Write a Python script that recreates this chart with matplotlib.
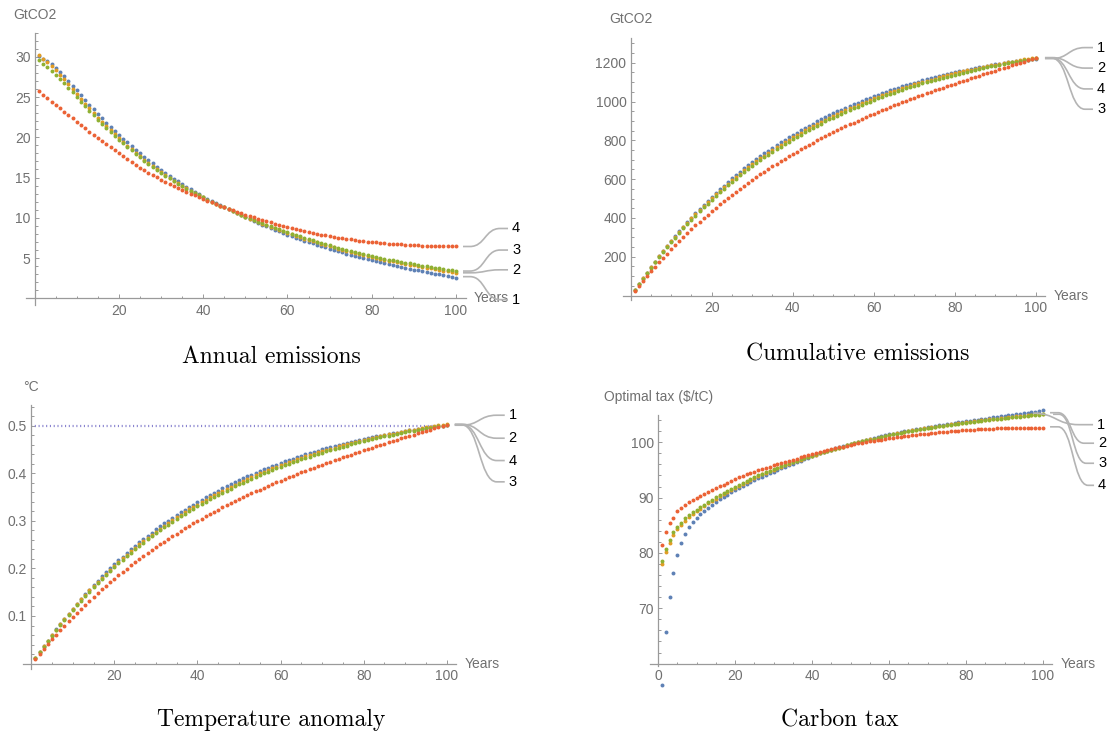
import numpy as np
import matplotlib
matplotlib.use("Agg")
import matplotlib.pyplot as plt
import matplotlib.transforms as mtransforms
from matplotlib.path import Path
from matplotlib.patches import PathPatch
from matplotlib.ticker import FixedLocator, MultipleLocator

plt.rcParams['font.family'] = ['Liberation Sans', 'DejaVu Sans']

# Data: 4 policy scenarios over 100 years
years = np.arange(1, 101)
scenarios = ['1', '2', '3', '4']
colors = ['#5E81B5', '#E19C24', '#8FB032', '#EB6235']

# annual emissions (GtCO2)
annual_1 = [30.05, 29.72, 29.42, 29.07, 28.65, 28.14, 27.58, 27.00, 26.41, 25.82,
            25.22, 24.62, 24.03, 23.46, 22.90, 22.35, 21.82, 21.31, 20.81, 20.32,
            19.84, 19.37, 18.91, 18.46, 18.02, 17.59, 17.17, 16.76, 16.36, 15.97,
            15.59, 15.22, 14.86, 14.51, 14.17, 13.84, 13.52, 13.21, 12.91, 12.62,
            12.34, 12.07, 11.80, 11.54, 11.28, 11.03, 10.78, 10.53, 10.29, 10.05,
            9.82, 9.59, 9.37, 9.15, 8.93, 8.72, 8.51, 8.31, 8.11, 7.91,
            7.72, 7.53, 7.35, 7.17, 6.99, 6.82, 6.65, 6.48, 6.32, 6.16,
            6.00, 5.85, 5.70, 5.55, 5.41, 5.27, 5.13, 4.99, 4.86, 4.73,
            4.60, 4.48, 4.36, 4.24, 4.12, 4.01, 3.90, 3.79, 3.68, 3.57,
            3.46, 3.36, 3.26, 3.16, 3.06, 2.96, 2.86, 2.76, 2.66, 2.56]
annual_2 = [30.25, 29.77, 29.32, 28.87, 28.35, 27.79, 27.18, 26.58, 25.96, 25.37,
            24.77, 24.17, 23.58, 23.01, 22.45, 21.90, 21.37, 20.86, 20.36, 19.87,
            19.42, 18.96, 18.51, 18.07, 17.64, 17.22, 16.81, 16.42, 16.04, 15.67,
            15.31, 14.96, 14.62, 14.29, 13.97, 13.66, 13.36, 13.07, 12.79, 12.52,
            12.26, 12.01, 11.76, 11.52, 11.28, 11.04, 10.80, 10.56, 10.33, 10.10,
            9.89, 9.67, 9.47, 9.26, 9.06, 8.86, 8.67, 8.48, 8.30, 8.11,
            7.94, 7.76, 7.59, 7.42, 7.25, 7.09, 6.93, 6.77, 6.62, 6.47,
            6.32, 6.18, 6.04, 5.90, 5.77, 5.64, 5.51, 5.38, 5.25, 5.13,
            5.01, 4.90, 4.79, 4.68, 4.57, 4.47, 4.37, 4.27, 4.17, 4.07,
            3.97, 3.88, 3.79, 3.70, 3.61, 3.52, 3.43, 3.34, 3.25, 3.16]
annual_3 = [29.60, 29.12, 28.70, 28.25, 27.77, 27.26, 26.72, 26.16, 25.59, 25.02,
            24.44, 23.86, 23.29, 22.74, 22.20, 21.67, 21.16, 20.67, 20.19, 19.72,
            19.26, 18.81, 18.37, 17.94, 17.52, 17.11, 16.71, 16.32, 15.94, 15.57,
            15.22, 14.88, 14.55, 14.23, 13.92, 13.62, 13.33, 13.05, 12.78, 12.52,
            12.26, 12.01, 11.76, 11.52, 11.28, 11.05, 10.82, 10.59, 10.37, 10.15,
            9.94, 9.73, 9.53, 9.33, 9.13, 8.94, 8.75, 8.57, 8.39, 8.21,
            8.03, 7.85, 7.68, 7.51, 7.34, 7.18, 7.02, 6.86, 6.71, 6.56,
            6.41, 6.27, 6.13, 6.00, 5.87, 5.74, 5.61, 5.48, 5.36, 5.25,
            5.13, 5.02, 4.92, 4.81, 4.71, 4.61, 4.52, 4.42, 4.33, 4.23,
            4.14, 4.05, 3.97, 3.88, 3.80, 3.71, 3.63, 3.54, 3.46, 3.38]
annual_4 = [25.70, 25.28, 24.86, 24.44, 24.02, 23.60, 23.18, 22.76, 22.34, 21.92,
            21.51, 21.10, 20.69, 20.29, 19.89, 19.50, 19.11, 18.73, 18.36, 17.99,
            17.62, 17.26, 16.91, 16.57, 16.24, 15.92, 15.61, 15.31, 15.02, 14.74,
            14.47, 14.21, 13.96, 13.71, 13.47, 13.23, 13.00, 12.77, 12.55, 12.33,
            12.12, 11.91, 11.71, 11.51, 11.31, 11.12, 10.93, 10.74, 10.56, 10.38,
            10.21, 10.04, 9.88, 9.72, 9.57, 9.42, 9.27, 9.13, 8.99, 8.85,
            8.72, 8.59, 8.47, 8.35, 8.24, 8.13, 8.02, 7.92, 7.82, 7.72,
            7.63, 7.54, 7.46, 7.38, 7.31, 7.24, 7.17, 7.11, 7.05, 6.99,
            6.94, 6.89, 6.84, 6.80, 6.76, 6.72, 6.68, 6.65, 6.62, 6.59,
            6.56, 6.54, 6.52, 6.50, 6.48, 6.47, 6.46, 6.45, 6.44, 6.43]

# optimal carbon tax ($/tC)
tax_1 = [56.1, 65.7, 72.1, 76.4, 79.6, 81.75, 83.4, 84.6, 85.6, 86.4,
         87.05, 87.65, 88.2, 88.72, 89.2, 89.66, 90.1, 90.52, 90.93, 91.33,
         91.71, 92.08, 92.44, 92.79, 93.13, 93.46, 93.78, 94.09, 94.39, 94.69,
         94.99, 95.29, 95.58, 95.87, 96.15, 96.43, 96.7, 96.97, 97.23, 97.49,
         97.74, 97.98, 98.22, 98.45, 98.68, 98.9, 99.12, 99.33, 99.54, 99.74,
         99.93, 100.11, 100.29, 100.47, 100.64, 100.8, 100.96, 101.12, 101.27, 101.42,
         101.56, 101.7, 101.84, 101.97, 102.1, 102.23, 102.36, 102.48, 102.6, 102.72,
         102.84, 102.95, 103.06, 103.17, 103.28, 103.38, 103.48, 103.58, 103.68, 103.78,
         103.88, 103.98, 104.08, 104.18, 104.28, 104.38, 104.48, 104.57, 104.66, 104.75,
         104.85, 104.95, 105.05, 105.15, 105.25, 105.35, 105.45, 105.55, 105.65, 105.8]
tax_2 = [77.95, 80.24, 81.8, 83.25, 84.3, 85.06, 85.8, 86.45, 87.0, 87.5,
         88.0, 88.48, 88.94, 89.38, 89.81, 90.23, 90.64, 91.04, 91.43, 91.81,
         92.18, 92.54, 92.89, 93.23, 93.56, 93.88, 94.19, 94.49, 94.78, 95.06,
         95.33, 95.6, 95.86, 96.12, 96.37, 96.62, 96.86, 97.1, 97.33, 97.56,
         97.78, 98.0, 98.21, 98.42, 98.63, 98.83, 99.03, 99.23, 99.42, 99.61,
         99.8, 99.98, 100.16, 100.34, 100.51, 100.68, 100.84, 101.0, 101.16, 101.31,
         101.46, 101.6, 101.74, 101.87, 102.0, 102.13, 102.25, 102.37, 102.49, 102.6,
         102.71, 102.82, 102.93, 103.03, 103.13, 103.23, 103.33, 103.43, 103.52, 103.61,
         103.7, 103.79, 103.88, 103.96, 104.04, 104.12, 104.2, 104.28, 104.36, 104.44,
         104.52, 104.6, 104.67, 104.74, 104.81, 104.88, 104.95, 105.02, 105.09, 105.16]
tax_3 = [78.55, 80.7, 82.4, 83.7, 84.75, 85.5, 86.3, 86.9, 87.35, 87.8,
         88.28, 88.74, 89.19, 89.62, 90.04, 90.45, 90.85, 91.24, 91.62, 91.99,
         92.35, 92.7, 93.04, 93.37, 93.69, 94.0, 94.3, 94.59, 94.87, 95.14,
         95.41, 95.67, 95.93, 96.18, 96.43, 96.67, 96.91, 97.14, 97.37, 97.59,
         97.81, 98.02, 98.23, 98.44, 98.64, 98.84, 99.04, 99.23, 99.42, 99.61,
         99.79, 99.97, 100.15, 100.32, 100.49, 100.65, 100.81, 100.97, 101.12, 101.27,
         101.41, 101.55, 101.69, 101.82, 101.95, 102.08, 102.2, 102.32, 102.44, 102.55,
         102.66, 102.77, 102.87, 102.97, 103.07, 103.17, 103.27, 103.36, 103.45, 103.54,
         103.63, 103.72, 103.8, 103.88, 103.96, 104.04, 104.12, 104.2, 104.28, 104.36,
         104.43, 104.5, 104.57, 104.64, 104.71, 104.78, 104.85, 104.92, 104.99, 105.06]
tax_4 = [81.4, 83.7, 85.4, 86.4, 87.5, 88.2, 88.7, 89.2, 89.6, 89.95,
         90.3, 90.65, 90.99, 91.33, 91.67, 92.01, 92.35, 92.69, 93.02, 93.35,
         93.64, 93.92, 94.19, 94.45, 94.7, 94.94, 95.17, 95.39, 95.61, 95.82,
         96.03, 96.24, 96.45, 96.65, 96.85, 97.05, 97.25, 97.44, 97.63, 97.82,
         98.01, 98.19, 98.37, 98.55, 98.72, 98.89, 99.06, 99.22, 99.38, 99.54,
         99.68, 99.81, 99.94, 100.06, 100.18, 100.29, 100.4, 100.5, 100.6, 100.7,
         100.8, 100.9, 100.99, 101.08, 101.17, 101.26, 101.34, 101.42, 101.5, 101.58,
         101.65, 101.72, 101.79, 101.85, 101.91, 101.97, 102.03, 102.08, 102.13, 102.18,
         102.23, 102.28, 102.32, 102.36, 102.4, 102.43, 102.46, 102.49, 102.51, 102.53,
         102.55, 102.57, 102.58, 102.59, 102.6, 102.61, 102.61, 102.61, 102.61, 102.61]

temp_target = 0.5      # °C
tcre = 0.00041         # °C per GtCO2 emitted

annual = [np.array(a) for a in (annual_1, annual_2, annual_3, annual_4)]
cumulative = [np.cumsum(a) for a in annual]
temperature = [c * tcre for c in cumulative]
tax = [np.array(t) for t in (tax_1, tax_2, tax_3, tax_4)]

AXIS_GREY = '#9a9a9a'
LABEL_GREY = '#707070'
CALLOUT_GREY = '#b4b4b4'
DPI = 100
W, H = 1117, 738

fig = plt.figure(figsize=(W / DPI, H / DPI), dpi=DPI)
fig.patch.set_facecolor('white')


def add_panel(left, top, right, bottom):
    return fig.add_axes([left / W, 1 - bottom / H, (right - left) / W, (bottom - top) / H])


def style_axes(ax, ylim, y0, xmajor, ymajor, yminor, ylabel):
    ax.set_xlim(-2, 102.3)
    ax.set_ylim(*ylim)
    ax.patch.set_visible(False)
    ax.spines['top'].set_visible(False)
    ax.spines['right'].set_visible(False)
    ax.spines['left'].set_position(('data', 0))
    ax.spines['bottom'].set_position(('data', y0))
    for s in ('left', 'bottom'):
        ax.spines[s].set_color(AXIS_GREY)
        ax.spines[s].set_linewidth(0.9)
    ax.xaxis.set_major_locator(FixedLocator(xmajor))
    ax.xaxis.set_minor_locator(MultipleLocator(5))
    ax.yaxis.set_major_locator(FixedLocator(ymajor))
    ax.yaxis.set_minor_locator(MultipleLocator(yminor))
    ax.tick_params(which='both', direction='in', color=AXIS_GREY, width=0.7,
                   labelcolor=LABEL_GREY, labelsize=10)
    ax.tick_params(which='major', length=3.2)
    ax.tick_params(which='minor', length=1.8)
    ax.tick_params(axis='x', pad=4)
    ax.tick_params(axis='y', pad=3)
    ax.annotate('Years', xy=(1, y0), xycoords=('axes fraction', 'data'),
                xytext=(6, 0), textcoords='offset points', ha='left', va='center',
                fontsize=10, color=LABEL_GREY)
    ax.annotate(ylabel, xy=(0, 1), xycoords=('data', 'axes fraction'),
                xytext=(0, 13), textcoords='offset points', ha='center', va='center',
                fontsize=10, color=LABEL_GREY)


def callout(ax, x, y, start, end, label, stub=7, tail=8):
    # start/end are pixel offsets from the last point (positive = up)
    sx, sy = start
    ex, ey = end
    x1, x2 = sx + stub, ex - tail
    mid = (x1 + x2) / 2
    verts = np.array([(sx, sy), (x1, sy), (mid, sy), (mid, ey), (x2, ey), (ex, ey)]) / DPI
    codes = [Path.MOVETO, Path.LINETO, Path.CURVE4, Path.CURVE4, Path.CURVE4, Path.LINETO]
    trans = fig.dpi_scale_trans + mtransforms.ScaledTranslation(x, y, ax.transData)
    ax.add_patch(PathPatch(Path(verts, codes), fc='none', ec=CALLOUT_GREY, lw=1.2,
                           transform=trans, clip_on=False, zorder=4))
    ax.text((ex + 4) / DPI, ey / DPI, label, transform=trans, ha='left', va='center',
            fontsize=10.5, color='black')


def draw_series(ax, series):
    for vals, c in zip(series, colors):
        ax.scatter(years, vals, s=8, color=c, linewidths=0, zorder=3, clip_on=False)


# Annual emissions
ax1 = add_panel(26.3, 32.6, 465.7, 304.7)
style_axes(ax1, (-0.8, 33), 0, [20, 40, 60, 80, 100], [5, 10, 15, 20, 25, 30], 1, 'GtCO2')
draw_series(ax1, annual)
for i, st, en in [(3, (7, 0), (52, 18)), (2, (7, 0), (52, 21)),
                  (1, (7, 0), (52, 3)), (0, (7, 1), (52, -22))]:
    callout(ax1, years[-1], annual[i][-1], st, en, scenarios[i])

# Cumulative emissions
ax2 = add_panel(622.5, 37.5, 1045.3, 300.4)
style_axes(ax2, (-25, 1330), 0, [20, 40, 60, 80, 100], [200, 400, 600, 800, 1000, 1200], 50, 'GtCO2')
draw_series(ax2, cumulative)
for i, en in [(0, (57, 11)), (1, (57, -10.5)), (3, (57, -31)), (2, (57, -51))]:
    callout(ax2, years[-1], cumulative[i][-1], (9, 0), en, scenarios[i])

# Temperature anomaly
ax3 = add_panel(22.9, 405.1, 456.3, 669.3)
style_axes(ax3, (-0.012, 0.543), 0, [20, 40, 60, 80, 100], [0.1, 0.2, 0.3, 0.4, 0.5], 0.02, '°C')
ax3.hlines(temp_target, 0, years[-1], colors='#8a84cf', linewidth=1.6,
           linestyles=(0, (0.5, 1.2)), zorder=2)
draw_series(ax3, temperature)
for i, en in [(0, (58, 10)), (1, (58, -14)), (3, (58, -36)), (2, (58, -57))]:
    callout(ax3, years[-1], temperature[i][-1], (8, 0), en, scenarios[i])

# Carbon tax
ax4 = add_panel(650.4, 414.6, 1051.9, 666.4)
style_axes(ax4, (59.5, 105), 60, [0, 20, 40, 60, 80, 100], [70, 80, 90, 100], 2, 'Optimal tax ($/tC)')
draw_series(ax4, tax)
callout(ax4, years[-1], tax[0][-1], (-10, -3), (50, -14.5), scenarios[0], stub=0, tail=14)
callout(ax4, years[-1], tax[1][-1], (7, 1), (51, -29.5), scenarios[1], stub=8, tail=10)
callout(ax4, years[-1], tax[2][-1], (10, 0), (51, -49), scenarios[2], stub=6, tail=8)
callout(ax4, years[-1], tax[3][-1], (7, 1), (51, -57.5), scenarios[3], stub=8, tail=6)

# panel captions
for x, y, txt in [(271, 357, 'Annual emissions'), (858, 354, 'Cumulative emissions'),
                  (271, 720, 'Temperature anomaly'), (840, 720, 'Carbon tax')]:
    fig.text(x / W, 1 - y / H, txt, ha='center', va='center', fontsize=17,
             family='cmr10', color='black')

fig.savefig('out.png', dpi=DPI)
